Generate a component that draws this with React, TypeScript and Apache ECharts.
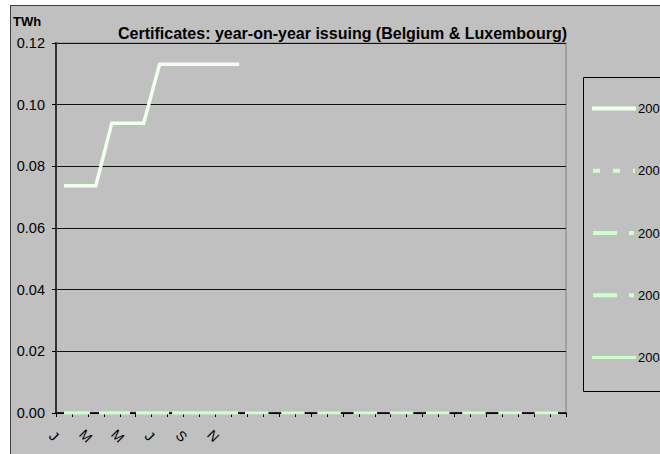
import React, { useEffect, useRef } from "react";
import * as echarts from "echarts";

const title = "Certificates: year-on-year issuing (Belgium & Luxembourg)";
const unit = "TWh";
const monthLabels = ["J", "F", "M", "A", "M", "J", "J", "A", "S", "O", "N", "D"];
const categoryCount = 32;
const seriesNames = ["2004", "2005", "2006", "2007", "2008"];
const yTicks = [0, 0.02, 0.04, 0.06, 0.08, 0.1, 0.12];

const s2004 = [0.0737, 0.0737, 0.0737, 0.094, 0.094, 0.094, 0.1131, 0.1131, 0.1131, 0.1131, 0.1131, 0.1131];
const s2005 = [0, 0, 0, 0, 0, 0, 0, 0, 0, 0, 0, 0, 0, 0, 0, 0, 0, 0, 0, 0, 0, 0, 0, 0, 0, 0, 0, 0, 0, 0, 0, 0];
const s2006 = [0, 0, 0, 0, 0, 0, 0, 0, 0, 0, 0, 0];
const s2007 = [0, 0, 0, 0, 0, 0, 0, 0, 0, 0, 0, 0];
const s2008: number[] = [];

const FONT = 'Arial, "Liberation Sans", sans-serif';
const WHITE = "#f2fff0";
const GREEN = "#ccffcc";

const icons = [
  "path://M0,0H44V4H0Z",
  "path://M0,0M44,4M1,0H8V4H1ZM21,0H28V4H21ZM41,0H43V4H41Z",
  "path://M0,0M44,4M1,0H25V4H1ZM37,0H42V4H37Z",
  "path://M0,0M44,4M1,0H25V4H1ZM37,0H42V4H37Z",
  "path://M0,0M44,4M0,0.5H44V3.5H0Z",
];

export default function App() {
  const ref = useRef<HTMLDivElement>(null);
  useEffect(() => {
    if (!ref.current) return;
    const chart = echarts.init(ref.current, null, { renderer: "svg" });
    const categories = Array.from({ length: categoryCount }, (_, i) => String(i));
    const base = (name: string, data: number[], color: string, width: number, dash: any, z: number) => ({
      name,
      type: "line",
      data,
      symbol: "none",
      showSymbol: false,
      color,
      z,
      lineStyle: { color, width, type: dash, cap: "butt", join: "miter" },
      emphasis: { disabled: true },
    });
    chart.setOption({
      animation: false,
      backgroundColor: "transparent",
      textStyle: { fontFamily: FONT },
      title: [
        {
          text: title,
          left: 107,
          top: 19,
          padding: 0,
          textStyle: { fontSize: 16, fontWeight: "bold", color: "#000", fontFamily: FONT },
        },
        {
          text: unit,
          left: 2,
          top: 9,
          padding: 0,
          textStyle: { fontSize: 13, fontWeight: "bold", color: "#000", fontFamily: FONT },
        },
      ],
      grid: {
        left: 45,
        top: 37,
        right: 94,
        bottom: 41,
        show: true,
        borderColor: "#808080",
        borderWidth: 1,
        backgroundColor: "transparent",
      },
      legend: {
        orient: "vertical",
        left: 581,
        top: 96,
        padding: 0,
        itemWidth: 44,
        itemHeight: 4,
        itemGap: 49.25,
        selectedMode: false,
        textStyle: { fontSize: 13, color: "#000", fontFamily: FONT, padding: [0, 0, 0, -3] },
        data: seriesNames.map((n, i) => ({ name: n, icon: icons[i] })),
      },
      graphic: [
        {
          type: "rect",
          left: 572,
          top: 71,
          shape: { width: 200, height: 314 },
          style: { fill: "transparent", stroke: "#000", lineWidth: 1 },
          silent: true,
        },
      ],
      xAxis: {
        type: "category",
        data: categories,
        boundaryGap: true,
        axisLine: { show: true, lineStyle: { color: "#000", width: 1.5 } },
        axisTick: { show: true, interval: 0, length: 4, lineStyle: { color: "#000" } },
        axisLabel: {
          interval: 1,
          rotate: -45,
          margin: 13,
          align: "center",
          verticalAlign: "top",
          padding: [7, 0, 0, 0],
          fontSize: 14,
          color: "#000",
          fontFamily: FONT,
          formatter: (_v: string, idx: number) => (idx < monthLabels.length ? monthLabels[idx] : ""),
        },
        splitLine: { show: false },
      },
      yAxis: {
        type: "value",
        min: yTicks[0],
        max: yTicks[yTicks.length - 1],
        interval: yTicks[1] - yTicks[0],
        axisLine: { show: true, lineStyle: { color: "#333", width: 2 } },
        axisTick: { show: true, length: 4, lineStyle: { color: "#000" } },
        axisLabel: {
          margin: 11,
          fontSize: 14.5,
          color: "#000",
          fontFamily: FONT,
          formatter: (v: number) => v.toFixed(2),
        },
        splitLine: { show: true, lineStyle: { color: "#111", width: 1 } },
      },
      series: [
        base(seriesNames[0], s2004, WHITE, 3.5, "solid", 10),
        base(seriesNames[1], s2005, GREEN, 3, [23.5, 12.7], 5),
        base(seriesNames[2], s2006, GREEN, 3, [0, 23, 3, 33, 7, 29, 10, 26, 13, 23, 7, 100], 4),
        base(seriesNames[3], s2007, GREEN, 3, [26, 9, 31, 6, 33, 3, 66, 100], 3),
        base(seriesNames[4], s2008, GREEN, 2, "solid", 2),
      ],
    });
    return () => chart.dispose();
  }, []);
  return (
    <div
      ref={ref}
      style={{
        position: "fixed",
        left: 10,
        top: 5,
        width: 649,
        height: 448,
        background: "#c0c0c0",
        borderLeft: "1px solid #404040",
        borderTop: "1px solid #404040",
      }}
    />
  );
}
